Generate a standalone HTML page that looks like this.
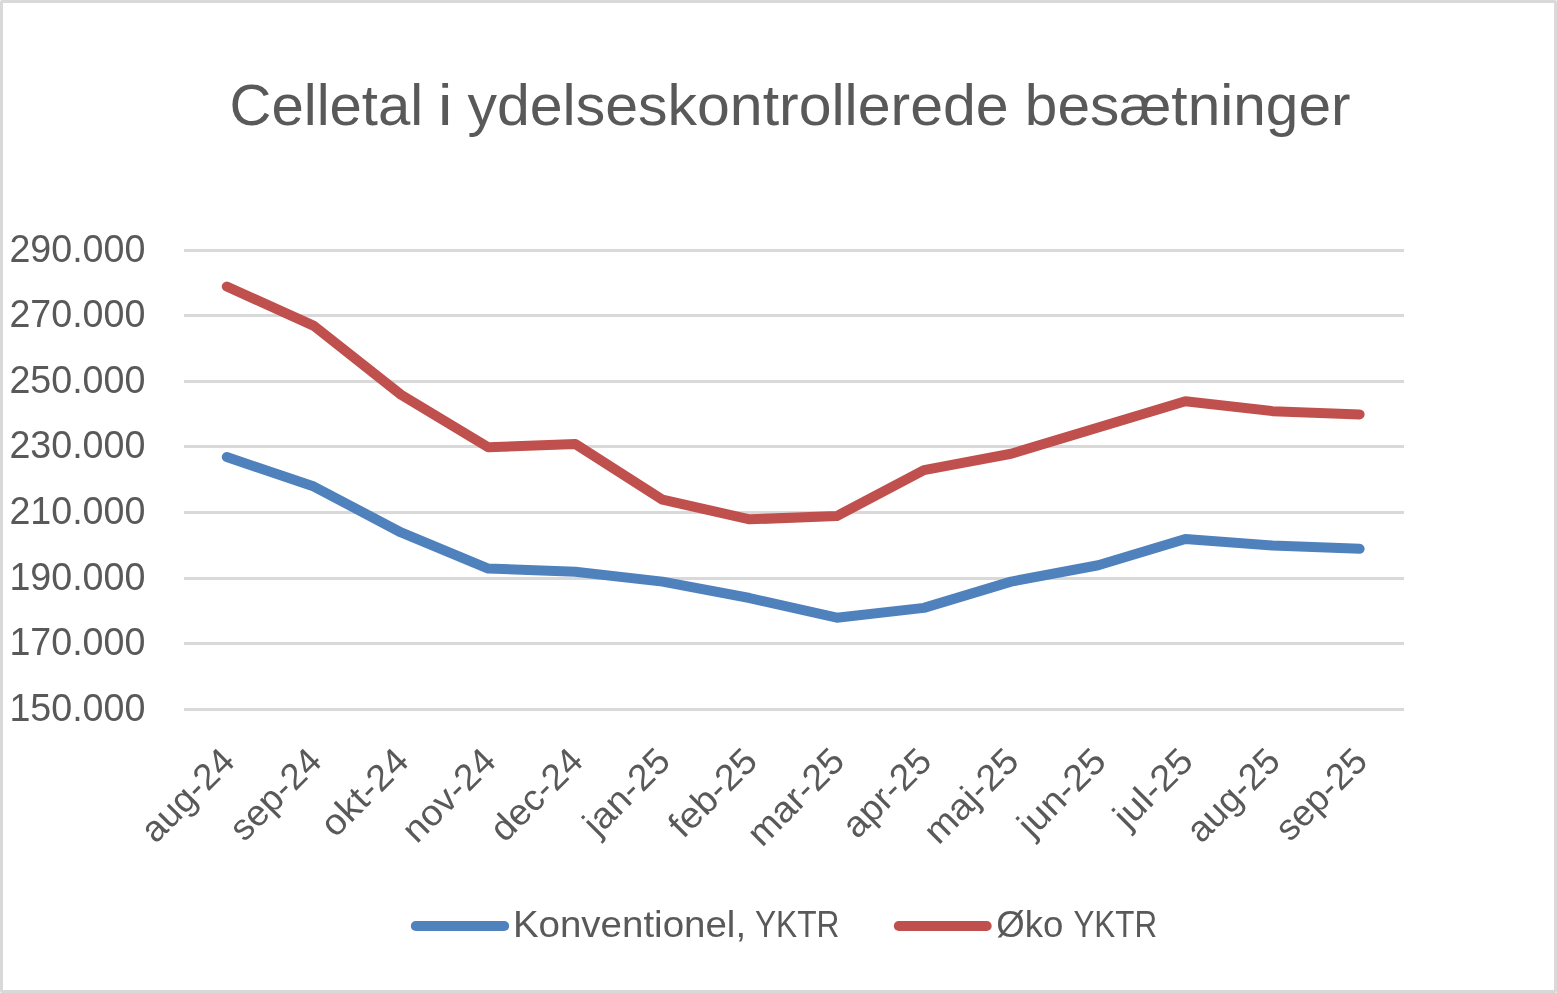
<!DOCTYPE html>
<html lang="da"><head><meta charset="utf-8"><title>Celletal i ydelseskontrollerede besætninger</title>
<style>
html,body{margin:0;padding:0;background:#fff;}
body{width:1557px;height:993px;overflow:hidden;font-family:"Liberation Sans",sans-serif;}
.chart{position:relative;width:1557px;height:993px;box-sizing:border-box;border:3px solid #d9d9d9;border-radius:2px;background:#fff;overflow:hidden;}
.chart svg{position:absolute;left:-3px;top:-3px;width:1557px;height:993px;display:block;}
text{font-family:"Liberation Sans",sans-serif;fill:#595959;}
.title{font-size:57.5px;}
.ylab{font-size:38.2px;text-anchor:end;}
.xlab{font-size:36.5px;text-anchor:end;}
.leg{font-size:36.5px;}
.grid line{stroke:#d9d9d9;stroke-width:3;}
.series{fill:none;stroke-width:10;stroke-linecap:round;stroke-linejoin:round;}
</style></head><body>
<div class="chart">
<svg width="1557" height="993" viewBox="0 0 1557 993" role="img" aria-label="Celletal i ydelseskontrollerede besætninger">
<text class="title" y="124.6">
<tspan x="229.5" textLength="193.7" lengthAdjust="spacingAndGlyphs">Celletal</tspan>
<tspan x="437.9" textLength="14.4" lengthAdjust="spacingAndGlyphs">i</tspan>
<tspan x="467.5" textLength="541.1" lengthAdjust="spacingAndGlyphs">ydelseskontrollerede</tspan>
<tspan x="1024.8" textLength="325.7" lengthAdjust="spacingAndGlyphs">besætninger</tspan>
</text>
<g class="grid">
<line x1="184.0" y1="250.50" x2="1404.0" y2="250.50"/>
<line x1="184.0" y1="315.50" x2="1404.0" y2="315.50"/>
<line x1="184.0" y1="381.50" x2="1404.0" y2="381.50"/>
<line x1="184.0" y1="446.50" x2="1404.0" y2="446.50"/>
<line x1="184.0" y1="512.50" x2="1404.0" y2="512.50"/>
<line x1="184.0" y1="578.50" x2="1404.0" y2="578.50"/>
<line x1="184.0" y1="643.50" x2="1404.0" y2="643.50"/>
<line x1="184.0" y1="709.50" x2="1404.0" y2="709.50"/>
</g>
<g class="yaxis">
<text class="ylab" x="145.4" y="261.70" textLength="136.0" lengthAdjust="spacingAndGlyphs">290.000</text>
<text class="ylab" x="145.4" y="326.70" textLength="136.0" lengthAdjust="spacingAndGlyphs">270.000</text>
<text class="ylab" x="145.4" y="392.70" textLength="136.0" lengthAdjust="spacingAndGlyphs">250.000</text>
<text class="ylab" x="145.4" y="457.70" textLength="136.0" lengthAdjust="spacingAndGlyphs">230.000</text>
<text class="ylab" x="145.4" y="523.70" textLength="136.0" lengthAdjust="spacingAndGlyphs">210.000</text>
<text class="ylab" x="145.4" y="589.70" textLength="136.0" lengthAdjust="spacingAndGlyphs">190.000</text>
<text class="ylab" x="145.4" y="654.70" textLength="136.0" lengthAdjust="spacingAndGlyphs">170.000</text>
<text class="ylab" x="145.4" y="720.70" textLength="136.0" lengthAdjust="spacingAndGlyphs">150.000</text>
</g>
<polyline class="series" stroke="#4f81bd" points="226.77,457.05 313.91,486.56 401.06,532.46 488.20,568.52 575.34,571.80 662.49,581.64 749.63,598.03 836.77,617.70 923.91,607.86 1011.06,581.64 1098.20,565.24 1185.34,539.01 1272.49,545.57 1359.63,548.85"/>
<polyline class="series" stroke="#c0504d" points="226.77,286.56 313.91,325.91 401.06,394.76 488.20,447.21 575.34,443.94 662.49,499.67 749.63,519.34 836.77,516.06 923.91,470.16 1011.06,453.77 1098.20,427.54 1185.34,401.31 1272.49,411.15 1359.63,414.43"/>
<g class="xaxis">
<text class="xlab" x="236.67" y="763.20" transform="rotate(-45 236.67 763.20)" textLength="114.9" lengthAdjust="spacingAndGlyphs">aug-24</text>
<text class="xlab" x="323.81" y="763.20" transform="rotate(-45 323.81 763.20)" textLength="112.4" lengthAdjust="spacingAndGlyphs">sep-24</text>
<text class="xlab" x="410.96" y="763.20" transform="rotate(-45 410.96 763.20)" textLength="106.9" lengthAdjust="spacingAndGlyphs">okt-24</text>
<text class="xlab" x="498.10" y="763.20" transform="rotate(-45 498.10 763.20)" textLength="115.0" lengthAdjust="spacingAndGlyphs">nov-24</text>
<text class="xlab" x="585.24" y="763.20" transform="rotate(-45 585.24 763.20)" textLength="113.7" lengthAdjust="spacingAndGlyphs">dec-24</text>
<text class="xlab" x="672.39" y="763.20" transform="rotate(-45 672.39 763.20)" textLength="105.4" lengthAdjust="spacingAndGlyphs">jan-25</text>
<text class="xlab" x="759.53" y="763.20" transform="rotate(-45 759.53 763.20)" textLength="107.8" lengthAdjust="spacingAndGlyphs">feb-25</text>
<text class="xlab" x="846.67" y="763.20" transform="rotate(-45 846.67 763.20)" textLength="119.9" lengthAdjust="spacingAndGlyphs">mar-25</text>
<text class="xlab" x="933.81" y="763.20" transform="rotate(-45 933.81 763.20)" textLength="108.7" lengthAdjust="spacingAndGlyphs">apr-25</text>
<text class="xlab" x="1020.96" y="763.20" transform="rotate(-45 1020.96 763.20)" textLength="116.6" lengthAdjust="spacingAndGlyphs">maj-25</text>
<text class="xlab" x="1108.10" y="763.20" transform="rotate(-45 1108.10 763.20)" textLength="107.3" lengthAdjust="spacingAndGlyphs">jun-25</text>
<text class="xlab" x="1195.24" y="763.20" transform="rotate(-45 1195.24 763.20)" textLength="95.1" lengthAdjust="spacingAndGlyphs">jul-25</text>
<text class="xlab" x="1282.39" y="763.20" transform="rotate(-45 1282.39 763.20)" textLength="114.9" lengthAdjust="spacingAndGlyphs">aug-25</text>
<text class="xlab" x="1369.53" y="763.20" transform="rotate(-45 1369.53 763.20)" textLength="112.4" lengthAdjust="spacingAndGlyphs">sep-25</text>
</g>
<g class="legend">
<line class="series" stroke="#4f81bd" x1="415.8" y1="926" x2="504.2" y2="926"/>
<text class="leg" y="936.8">
<tspan x="512.9" textLength="233.2" lengthAdjust="spacingAndGlyphs">Konventionel,</tspan>
<tspan x="754.9" textLength="84.5" lengthAdjust="spacingAndGlyphs">YKTR</tspan>
</text>
<line class="series" stroke="#c0504d" x1="898.8" y1="926" x2="986.7" y2="926"/>
<text class="leg" y="936.8">
<tspan x="996.3" textLength="67.1" lengthAdjust="spacingAndGlyphs">Øko</tspan>
<tspan x="1073.4" textLength="83.7" lengthAdjust="spacingAndGlyphs">YKTR</tspan>
</text>
</g>
</svg></div></body></html>
